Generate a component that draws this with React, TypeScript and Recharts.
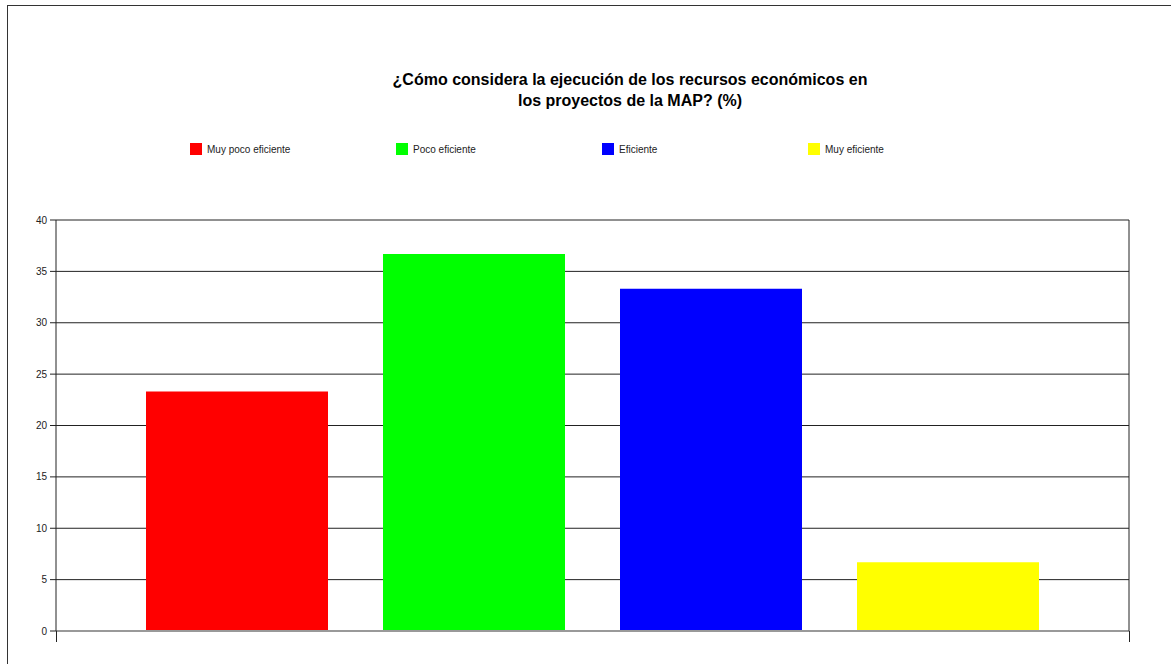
import { BarChart, Bar, XAxis, YAxis, CartesianGrid, Legend, ReferenceLine } from 'recharts'

const seriesNames = ['Muy poco eficiente', 'Poco eficiente', 'Eficiente', 'Muy eficiente']
const seriesKeys = ['muyPoco', 'poco', 'eficiente', 'muy']
const seriesValues = [23.3, 36.7, 33.3, 6.7]
const seriesColors = ['#FF0000', '#00FF00', '#0000FF', '#FFFF00']
const yTicks = [0, 5, 10, 15, 20, 25, 30, 35, 40]

const row: Record<string, string | number> = { name: '' }
seriesKeys.forEach((k, i) => {
  row[k] = seriesValues[i]
})
const data = [row]

const font = 'Arial, "Liberation Sans", sans-serif'

function LegendRow({ payload }: any) {
  const items = [...(payload || [])].sort(
    (a: any, b: any) => seriesNames.indexOf(a.value) - seriesNames.indexOf(b.value)
  )
  return (
    <div style={{ display: 'flex', fontFamily: font, fontSize: 10, color: '#222', height: 12 }}>
      {items.map((p: any) => (
        <div key={p.value} style={{ width: 206, display: 'flex', alignItems: 'center' }}>
          <span style={{ width: 12, height: 12, background: p.color, display: 'inline-block', marginRight: 5 }} />
          <span>{p.value}</span>
        </div>
      ))}
    </div>
  )
}

export default function App() {
  return (
    <div style={{ position: 'absolute', left: 0, top: 0, width: 1176, height: 664, background: '#fff', overflow: 'hidden' }}>
      <div
        style={{
          position: 'absolute',
          left: 7,
          top: 5,
          width: 1163,
          height: 700,
          borderTop: '1.5px solid #333',
          borderLeft: '1.5px solid #333',
        }}
      />
      <div
        style={{
          position: 'absolute',
          left: 330,
          top: 69,
          width: 600,
          textAlign: 'center',
          fontFamily: font,
          fontWeight: 'bold',
          fontSize: 16,
          lineHeight: '21px',
          color: '#000',
        }}
      >
        ¿Cómo considera la ejecución de los recursos económicos en
        <br />
        los proyectos de la MAP? (%)
      </div>
      <div style={{ position: 'absolute', left: 0, top: 0 }}>
        <BarChart
          width={1176}
          height={664}
          data={data}
          margin={{ top: 208, right: 0, bottom: 33, left: 0 }}
          barCategoryGap={90}
          barGap={55}
        >
          <CartesianGrid vertical={false} stroke="#222" yAxisId="left" />
          <XAxis dataKey="name" hide />
          <YAxis
            yAxisId="left"
            orientation="left"
            width={56}
            domain={[0, 40]}
            ticks={yTicks}
            interval={0}
            tickSize={6}
            tickMargin={3}
            stroke="#222"
            tick={{ fontSize: 10, fill: '#222', fontFamily: font }}
          />
          <YAxis
            yAxisId="right"
            orientation="right"
            width={47}
            domain={[0, 40]}
            ticks={yTicks}
            interval={0}
            tickSize={6}
            tickMargin={2}
            stroke="#222"
            tick={{ fontSize: 10, fill: '#222', fontFamily: font }}
          />
          <Legend
            verticalAlign="top"
            align="left"
            itemSorter={null as any}
            content={<LegendRow />}
            wrapperStyle={{ position: 'absolute', top: 143, left: 190, width: 900, height: 12 }}
          />
          {seriesKeys.map((k, i) => (
            <Bar
              key={k}
              yAxisId="left"
              dataKey={k}
              name={seriesNames[i]}
              fill={seriesColors[i]}
              isAnimationActive={false}
            />
          ))}
          <ReferenceLine yAxisId="left" y={0} stroke="#999" strokeWidth={2} />
        </BarChart>
      </div>
      <div style={{ position: 'absolute', left: 55.5, top: 631, width: 1, height: 11, background: '#222' }} />
      <div style={{ position: 'absolute', left: 1128.5, top: 631, width: 1, height: 11, background: '#222' }} />
    </div>
  )
}
